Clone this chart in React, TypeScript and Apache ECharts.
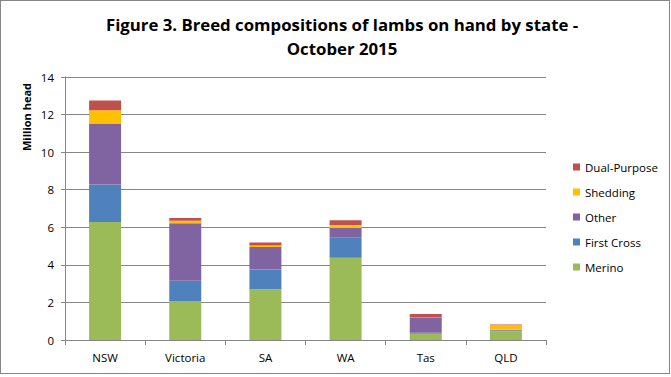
import React, { useEffect, useRef } from "react";
import * as echarts from "echarts";

const categories = ["NSW", "Victoria", "SA", "WA", "Tas", "QLD"];
const merino = [6.28, 2.07, 2.7, 4.38, 0.33, 0.47];
const firstCross = [2.0, 1.09, 1.05, 1.09, 0.05, 0.03];
const other = [3.25, 3.05, 1.2, 0.49, 0.83, 0.04];
const shedding = [0.7, 0.14, 0.08, 0.16, 0.01, 0.26];
const dualPurpose = [0.52, 0.14, 0.16, 0.26, 0.17, 0.02];
const yTicks = [0, 2, 4, 6, 8, 10, 12, 14];

const FONT = "'Open Sans', 'Liberation Sans', sans-serif";

export default function App() {
  const ref = useRef<HTMLDivElement>(null);
  useEffect(() => {
    if (!ref.current) return;
    const chart = echarts.init(ref.current, null, { renderer: "svg" });
    const mk = (name: string, data: number[], color: string) => ({
      name,
      type: "bar",
      stack: "total",
      data,
      barWidth: 32,
      itemStyle: { color },
    });
    chart.setOption({
      animation: false,
      backgroundColor: "#ffffff",
      title: {
        text: "Figure 3. Breed compositions of lambs on hand by state -\nOctober 2015",
        left: 336,
        top: 6,
        textAlign: "center",
        textStyle: {
          fontFamily: FONT,
          fontWeight: "bold",
          fontSize: 16.8,
          lineHeight: 24,
          color: "#000000",
        },
      },
      grid: { left: 64, right: 123, top: 76, bottom: 33 },
      legend: {
        orient: "vertical",
        left: 567,
        top: 154,
        itemWidth: 7,
        itemHeight: 7,
        itemGap: 11,
        icon: "rect",
        textStyle: { fontFamily: FONT, fontSize: 11.5, color: "#000", lineHeight: 14 },
        data: ["Dual-Purpose", "Shedding", "Other", "First Cross", "Merino"],
      },
      xAxis: {
        type: "category",
        data: categories,
        axisLine: { lineStyle: { color: "#868686" } },
        axisTick: { show: true, alignWithLabel: false, length: 5, lineStyle: { color: "#868686" } },
        axisLabel: { fontFamily: FONT, fontSize: 11.5, color: "#000", margin: 11 },
      },
      yAxis: {
        type: "value",
        min: yTicks[0],
        max: yTicks[yTicks.length - 1],
        interval: 2,
        axisLine: { show: true, lineStyle: { color: "#868686" } },
        axisTick: { show: true, length: 4, lineStyle: { color: "#868686" } },
        splitLine: { lineStyle: { color: "#868686" } },
        axisLabel: { fontFamily: FONT, fontSize: 11.5, color: "#000", margin: 11 },
      },
      graphic: [
        {
          type: "text",
          x: 25,
          y: 116,
          rotation: Math.PI / 2,
          style: {
            text: "Million head",
            fontFamily: FONT,
            fontSize: 11,
            fontWeight: "bold",
            fill: "#000",
            align: "center",
            verticalAlign: "middle",
          },
        },
      ],
      series: [
        mk("Merino", merino, "#9BBB59"),
        mk("First Cross", firstCross, "#4F81BD"),
        mk("Other", other, "#8064A2"),
        mk("Shedding", shedding, "#FFC000"),
        mk("Dual-Purpose", dualPurpose, "#C0504D"),
      ],
    });
    return () => chart.dispose();
  }, []);
  return (
    <div
      style={{
        position: "fixed",
        left: 0,
        top: 0,
        width: 670,
        height: 374,
        boxSizing: "border-box",
        border: "1px solid #868686",
        background: "#fff",
      }}
    >
      <div ref={ref} style={{ width: 668, height: 372 }} />
    </div>
  );
}
